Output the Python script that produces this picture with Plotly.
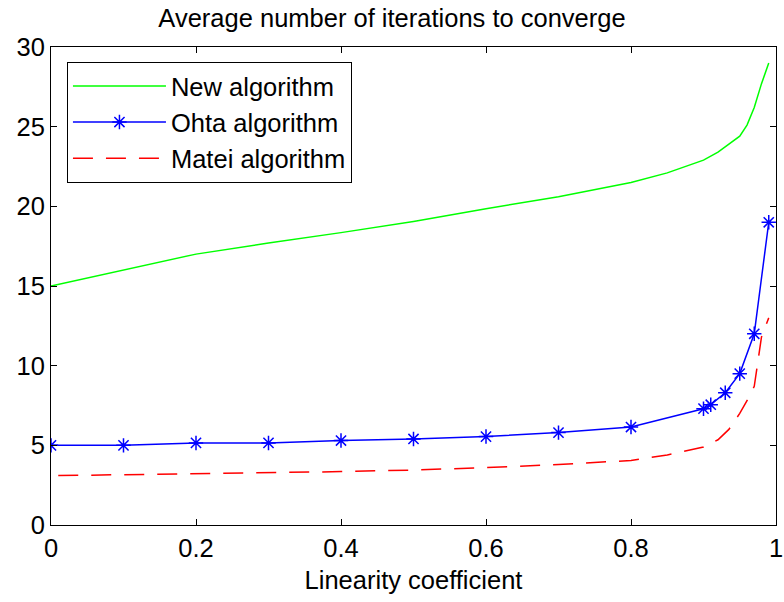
import plotly.graph_objects as go

# Data
new_x = [0.0, 0.1, 0.2, 0.3, 0.4, 0.5, 0.6, 0.7, 0.8, 0.85, 0.9, 0.92, 0.95, 0.96, 0.97, 0.98, 0.99]
new_y = [15.0, 16.0, 17.0, 17.7, 18.35, 19.05, 19.85, 20.6, 21.5, 22.1, 22.9, 23.4, 24.4, 25.1, 26.2, 27.7, 29.0]

ohta_x = [0.0, 0.1, 0.2, 0.3, 0.4, 0.5, 0.6, 0.7, 0.8, 0.9, 0.91, 0.93, 0.95, 0.97, 0.99]
ohta_y = [5.0, 5.0, 5.15, 5.15, 5.3, 5.4, 5.55, 5.8, 6.15, 7.3, 7.55, 8.3, 9.5, 12.0, 19.0]

matei_x = [0.01, 0.1, 0.2, 0.3, 0.4, 0.5, 0.6, 0.7, 0.8, 0.85, 0.9, 0.92, 0.935, 0.95, 0.96, 0.97, 0.975, 0.98, 0.99]
matei_y = [3.1, 3.15, 3.2, 3.25, 3.35, 3.45, 3.6, 3.8, 4.05, 4.4, 4.9, 5.35, 6.0, 7.0, 7.8, 8.7, 10.2, 11.8, 13.0]

x_ticks = [0, 0.2, 0.4, 0.6, 0.8, 1]
x_tick_text = ["0", "0.2", "0.4", "0.6", "0.8", "1"]
y_ticks = [0, 5, 10, 15, 20, 25, 30]

FONT = "Liberation Sans, Arial, sans-serif"
FS = 25.5

fig = go.Figure()
fig.add_trace(go.Scatter(x=new_x, y=new_y, mode="lines", name="New algorithm",
                         line=dict(color="#00FF00", width=1.5)))
fig.add_trace(go.Scatter(x=ohta_x, y=ohta_y, mode="lines+markers", name="Ohta algorithm",
                         line=dict(color="#0000FF", width=1.5),
                         marker=dict(symbol="asterisk-open", size=12,
                                     line=dict(color="#0000FF", width=1.5))))
fig.add_trace(go.Scatter(x=matei_x, y=matei_y, mode="lines", name="Matei algorithm",
                         line=dict(color="#FF0000", width=1.5, dash="20px,13px")))

axis_common = dict(showline=True, linecolor="black", linewidth=1, mirror="ticks",
                   ticks="inside", ticklen=6, tickcolor="black", showgrid=False,
                   zeroline=False, ticklabeloverflow="allow", automargin=False,
                   tickfont=dict(family=FONT, size=FS, color="black"))

fig.update_layout(
    width=784, height=602,
    margin=dict(l=51, r=8, t=47, b=77, autoexpand=False),
    paper_bgcolor="white", plot_bgcolor="white",
    title=dict(text="Average number of iterations to converge",
               font=dict(family=FONT, size=FS, color="black"),
               x=0.5, xanchor="center", y=0.97, yanchor="middle"),
    xaxis=dict(range=[0, 1], tickvals=x_ticks, ticktext=x_tick_text,
               title=dict(text="Linearity coefficient", font=dict(family=FONT, size=FS, color="black"),
                          standoff=10),
               **axis_common),
    yaxis=dict(range=[0, 30], tickvals=y_ticks, **axis_common),
    legend=dict(x=0.022, y=0.969, xanchor="left", yanchor="top",
                bordercolor="black", borderwidth=1, bgcolor="white",
                font=dict(family=FONT, size=FS, color="black"),
                itemwidth=93, tracegroupgap=0),
    showlegend=True,
)

fig.write_html("out.html")
